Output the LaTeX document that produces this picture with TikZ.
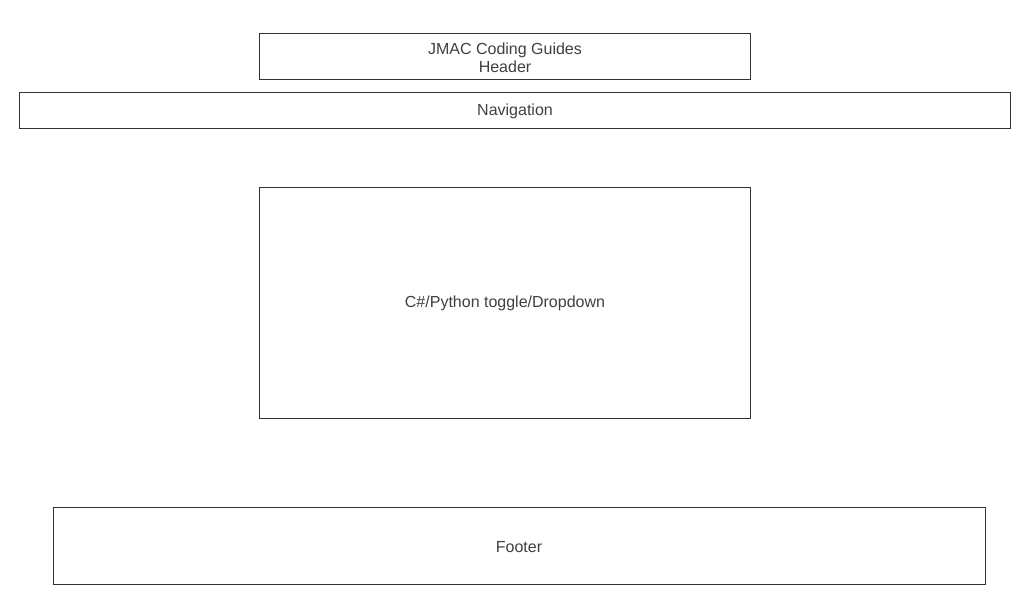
\documentclass[tikz,border=0pt]{standalone}
\usepackage{fontspec}
\setmainfont{Liberation Sans}
\definecolor{linec}{HTML}{333333}
\definecolor{textc}{HTML}{404040}
\begin{document}
\begin{tikzpicture}[x=1pt,y=-1pt,
  box/.style={draw=linec,line width=0.8pt,inner sep=0pt},
  lbl/.style={text=textc,font=\fontsize{16}{18}\selectfont,align=center,inner sep=0pt}]
\useasboundingbox (0,0) rectangle (1024,600);
\fill[white] (0,0) rectangle (1024,600);
\draw[box] (259.5,33.5) rectangle (750,79.5);
\node[lbl] (header) at (505,57.5) {JMAC Coding Guides\\Header};
\draw[box] (19.5,92.5) rectangle (1010,128.5);
\node[lbl] (nav) at (515,111.5) {Navigation};
\draw[box] (259.5,187.5) rectangle (750,418.5);
\node[lbl] (main) at (505,303.5) {C\#/Python toggle/Dropdown};
\draw[box] (53.5,507.5) rectangle (985.5,584.5);
\node[lbl] (footer) at (519,547.5) {Footer};
\end{tikzpicture}
\end{document}
